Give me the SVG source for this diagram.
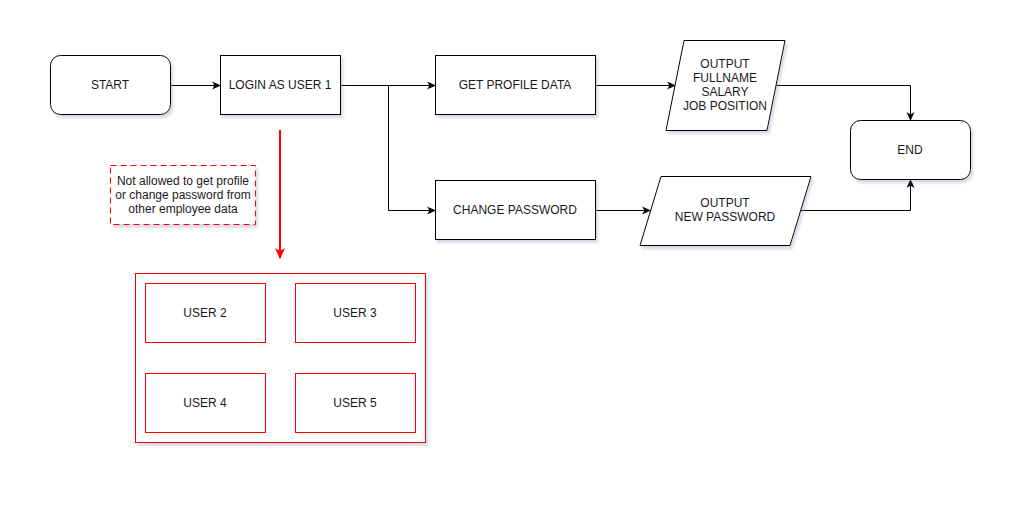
<svg xmlns="http://www.w3.org/2000/svg" width="1011" height="511" viewBox="0 0 1011 511">
<defs>
<filter id="sh" x="-10%" y="-10%" width="130%" height="140%">
<feDropShadow dx="2" dy="3" stdDeviation="1.5" flood-color="#8a8fb0" flood-opacity="0.35"/>
</filter>
<marker id="arr" markerWidth="10" markerHeight="10" refX="8" refY="5" orient="auto" markerUnits="userSpaceOnUse">
<path d="M0,1 L9,5 L0,9 L2.5,5 Z" fill="#000"/>
</marker>
<marker id="arrRed" markerWidth="12" markerHeight="12" refX="10" refY="6" orient="auto" markerUnits="userSpaceOnUse">
<path d="M0,1 L11,6 L0,11 L3,6 Z" fill="#ff0000"/>
</marker>
</defs>
<style>
.n{fill:#fff;stroke:#000;stroke-width:1;filter:url(#sh)}
.r{fill:#fff;stroke:#ff0000;stroke-width:1}
.t{font-family:"Liberation Sans",Arial,sans-serif;font-size:12px;fill:#1a1a1a;text-anchor:middle}
.c{fill:none;stroke:#000;stroke-width:1;marker-end:url(#arr)}
</style>
<rect width="1011" height="511" fill="#fff"/>
<g id="connectors">
<path class="c" d="M170,85.5 H220"/>
<path class="c" d="M340,85.5 H435"/>
<path class="c" d="M388.5,85.5 V210.5 H435"/>
<path class="c" d="M595,85.5 H675"/>
<path class="c" d="M776,85.5 H910.5 V120"/>
<path class="c" d="M595,210.5 H650"/>
<path class="c" d="M800,210.5 H910.5 V180"/>
<path d="M280,130 V258" fill="none" stroke="#ff0000" stroke-width="2" marker-end="url(#arrRed)"/>
</g>
<g id="start">
<rect class="n" x="50.5" y="55.5" width="120" height="59" rx="10"/>
<text class="t" x="110" y="89">START</text>
</g>
<g id="login">
<rect class="n" x="220.5" y="55.5" width="120" height="59"/>
<text class="t" x="280" y="89">LOGIN AS USER 1</text>
</g>
<g id="getprofile">
<rect class="n" x="435.5" y="55.5" width="160" height="59"/>
<text class="t" x="515" y="89">GET PROFILE DATA</text>
</g>
<g id="changepassword">
<rect class="n" x="435.5" y="180.5" width="160" height="59"/>
<text class="t" x="515" y="214">CHANGE PASSWORD</text>
</g>
<g id="output1">
<polygon class="n" points="684,40.5 785,40.5 767,130.5 666,130.5"/>
<text class="t" x="725" y="68">OUTPUT</text>
<text class="t" x="725" y="82">FULLNAME</text>
<text class="t" x="725" y="96">SALARY</text>
<text class="t" x="725" y="110">JOB POSITION</text>
</g>
<g id="output2">
<polygon class="n" points="661,176.5 811,176.5 790,245.5 640,245.5"/>
<text class="t" x="725" y="207">OUTPUT</text>
<text class="t" x="725" y="221">NEW PASSWORD</text>
</g>
<g id="end">
<rect class="n" x="850.5" y="120.5" width="120" height="59" rx="10"/>
<text class="t" x="910" y="154">END</text>
</g>
<g id="note">
<rect x="110.5" y="165.5" width="145" height="59" fill="#fff" stroke="#ff0000" stroke-width="1" stroke-dasharray="6,4" filter="url(#sh)"/>
<text class="t" x="183" y="185">Not allowed to get profile</text>
<text class="t" x="183" y="199">or change password from</text>
<text class="t" x="183" y="213">other employee data</text>
</g>
<g id="users">
<rect class="r" x="135.5" y="273.5" width="290" height="169" filter="url(#sh)"/>
<g id="user2">
<rect class="r" x="145.5" y="283.5" width="120" height="59"/>
<text class="t" x="205" y="317">USER 2</text>
</g>
<g id="user3">
<rect class="r" x="295.5" y="283.5" width="120" height="59"/>
<text class="t" x="355" y="317">USER 3</text>
</g>
<g id="user4">
<rect class="r" x="145.5" y="373.5" width="120" height="59"/>
<text class="t" x="205" y="407">USER 4</text>
</g>
<g id="user5">
<rect class="r" x="295.5" y="373.5" width="120" height="59"/>
<text class="t" x="355" y="407">USER 5</text>
</g>
</g>
</svg>
